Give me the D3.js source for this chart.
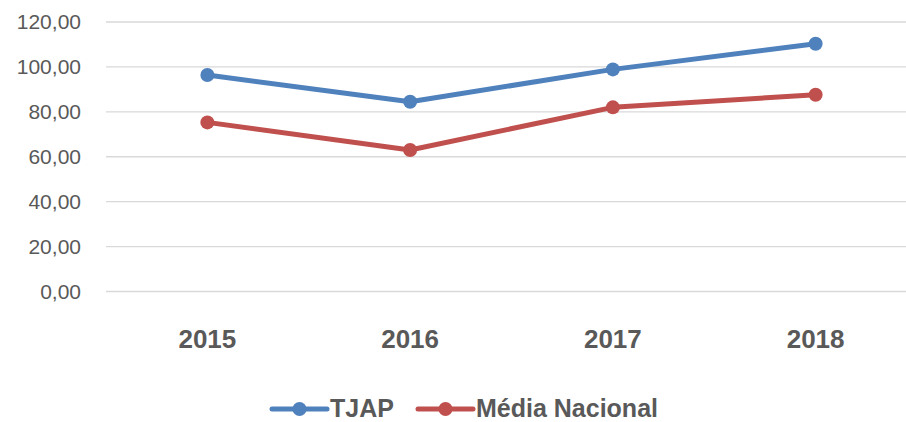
<!DOCTYPE html>
<html>
<head>
<meta charset="utf-8">
<script src="https://cdn.jsdelivr.net/npm/d3@7"></script>
<style>
  body { margin: 0; background: #fff; }
  svg { display: block; font-family: "Liberation Sans", Arial, sans-serif; }
</style>
</head>
<body>
<div id="chart"></div>
<script>
const anos = ["2015", "2016", "2017", "2018"];
const tjap = [96.4, 84.5, 98.9, 110.3];
const mediaNacional = [75.3, 63.0, 82.0, 87.6];
const yTicks = [0, 20, 40, 60, 80, 100, 120];

const series = [
    { nome: "TJAP", valores: tjap, cor: "#4F81BD" },
    { nome: "Média Nacional", valores: mediaNacional, cor: "#C0504D" }
];

const W = 906, H = 422;
const svg = d3.select("#chart").append("svg")
    .attr("width", W)
    .attr("height", H);

// area do grafico (o lado direito passa um pouco da janela, como no original)
const x = d3.scaleBand().domain(anos).range([106, 917]);
const y = d3.scaleLinear().domain([0, 120]).range([291.5, 22]);

// linhas de grade
svg.append("g")
    .selectAll("line")
    .data(yTicks)
    .enter()
    .append("line")
    .attr("x1", 106)
    .attr("x2", 917)
    .attr("y1", d => y(d))
    .attr("y2", d => y(d))
    .attr("stroke", "#D9D9D9")
    .attr("stroke-width", 1.3);

// eixo y
const fmt = d => d3.format(".2f")(d).replace(".", ",");
const eixoY = svg.append("g")
    .attr("transform", "translate(81,0)")
    .call(d3.axisLeft(y).tickValues(yTicks).tickFormat(fmt).tickSize(0).tickPadding(0));
eixoY.select(".domain").remove();
eixoY.selectAll("text")
    .attr("fill", "#595959")
    .style("font-size", "21px")
    .style("font-family", "Liberation Sans, Arial, sans-serif");

// eixo x
const eixoX = svg.append("g")
    .attr("transform", "translate(0,291.5)")
    .call(d3.axisBottom(x).tickSize(0).tickPadding(0));
eixoX.select(".domain").remove();
eixoX.selectAll("text")
    .attr("dy", null)
    .attr("y", 56.5)
    .attr("fill", "#595959")
    .style("font-size", "26px")
    .style("font-weight", "bold")
    .style("font-family", "Liberation Sans, Arial, sans-serif");

// linhas
const linha = d3.line()
    .x((d, i) => x(anos[i]) + x.bandwidth() / 2)
    .y(d => y(d));

series.forEach(s => {
    svg.append("path")
        .datum(s.valores)
        .attr("fill", "none")
        .attr("stroke", s.cor)
        .attr("stroke-width", 5)
        .attr("stroke-linejoin", "round")
        .attr("d", linha);

    svg.append("g")
        .selectAll("circle")
        .data(s.valores)
        .enter()
        .append("circle")
        .attr("cx", (d, i) => x(anos[i]) + x.bandwidth() / 2)
        .attr("cy", d => y(d))
        .attr("r", 7)
        .attr("fill", s.cor);
});

// legenda
const legX = [272, 418];
const leg = svg.append("g");
series.forEach((s, i) => {
    const g = leg.append("g").attr("transform", `translate(${legX[i]},409)`);
    g.append("line")
        .attr("x1", 0).attr("x2", 55)
        .attr("y1", 0).attr("y2", 0)
        .attr("stroke", s.cor)
        .attr("stroke-width", 5)
        .attr("stroke-linecap", "round");
    g.append("circle")
        .attr("cx", 27.5).attr("cy", 0)
        .attr("r", 7)
        .attr("fill", s.cor);
    g.append("text")
        .attr("x", 58)
        .attr("y", 8)
        .attr("fill", "#595959")
        .style("font-size", "25px")
        .style("font-weight", "bold")
        .text(s.nome);
});
</script>
</body>
</html>
